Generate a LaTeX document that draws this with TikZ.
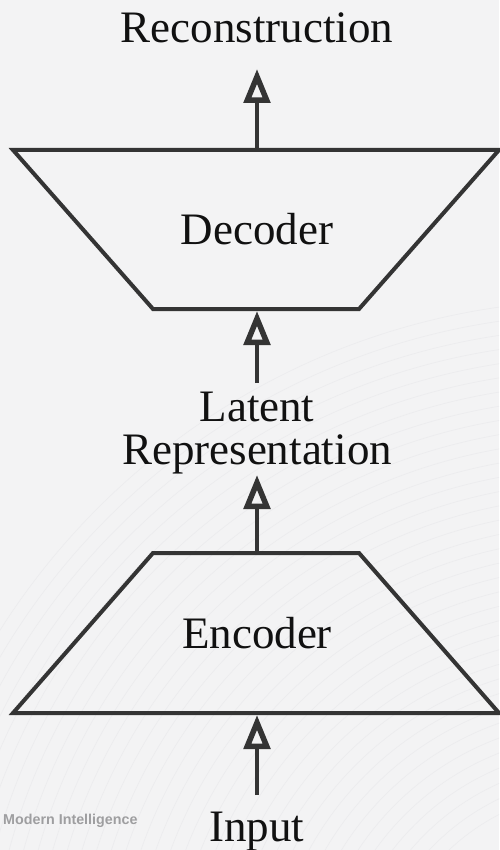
\documentclass[tikz,border=0pt]{standalone}
\usepackage{fontspec}
\setmainfont{Liberation Serif}
\newfontfamily\marksans{Liberation Sans}
\usetikzlibrary{arrows.meta}
\definecolor{bg}{RGB}{243,243,244}
\definecolor{contour}{RGB}{236,236,238}
\definecolor{ink}{RGB}{52,52,52}
\definecolor{txt}{RGB}{17,17,17}
\definecolor{markgray}{RGB}{158,158,160}
\begin{document}
\begin{tikzpicture}[x=1pt,y=-1pt,
  outline/.style={draw=ink, line width=4pt, line join=miter},
  caption/.style={font=\fontsize{45}{43}\selectfont, text=txt, inner sep=0pt, align=center},
  flow/.style={draw=ink, line width=4pt,
    -{Triangle[open, length=34pt, width=26pt, line width=5.5pt]}}]

  % page and faint background contours
  \fill[bg] (0,0) rectangle (499,850);
  \useasboundingbox (0,0) rectangle (499,850);
  \begin{scope}
    \clip (0,0) rectangle (499,850);
    \foreach \r in {220,234,...,720}
      \draw[contour, line width=0.7pt] (600,1010) circle[radius=\r];
  \end{scope}

  % decoder: wide top, narrow bottom
  \draw[outline] (13,150) -- (499,150) -- (359,309) -- (153,309) -- cycle;
  \node[caption] (dec) at (257,229.5) {Decoder};
  \coordinate (decTop) at (257,150);
  \coordinate (decBase) at (257,311);

  % encoder: narrow top, wide bottom
  \draw[outline] (153,553) -- (359,553) -- (499,713) -- (13,713) -- cycle;
  \node[caption] (enc) at (257,633) {Encoder};
  \coordinate (encTop) at (257,553);
  \coordinate (encBase) at (257,715);

  % labels
  \node[caption, anchor=base] (rec) at (257,43) {Reconstruction};
  \node[caption] (lat) at (257,433) {Latent\\Representation};
  \node[caption, anchor=base] (inp) at (257,841) {Input};
  \node[anchor=base west, inner sep=0pt, text=markgray,
        font=\marksans\bfseries\fontsize{14.3}{14}\selectfont] (mark) at (3,824) {Modern Intelligence};

  % connector ends next to the labels
  \coordinate (recTip) at (257,69);
  \coordinate (latTop) at (257,383);
  \coordinate (latTip) at (257,475);
  \coordinate (inpTop) at (257,795);

  % data flow
  \draw[flow] (decTop) -- (recTip);
  \draw[flow] (latTop) -- (decBase);
  \draw[flow] (encTop) -- (latTip);
  \draw[flow] (inpTop) -- (encBase);
\end{tikzpicture}
\end{document}
